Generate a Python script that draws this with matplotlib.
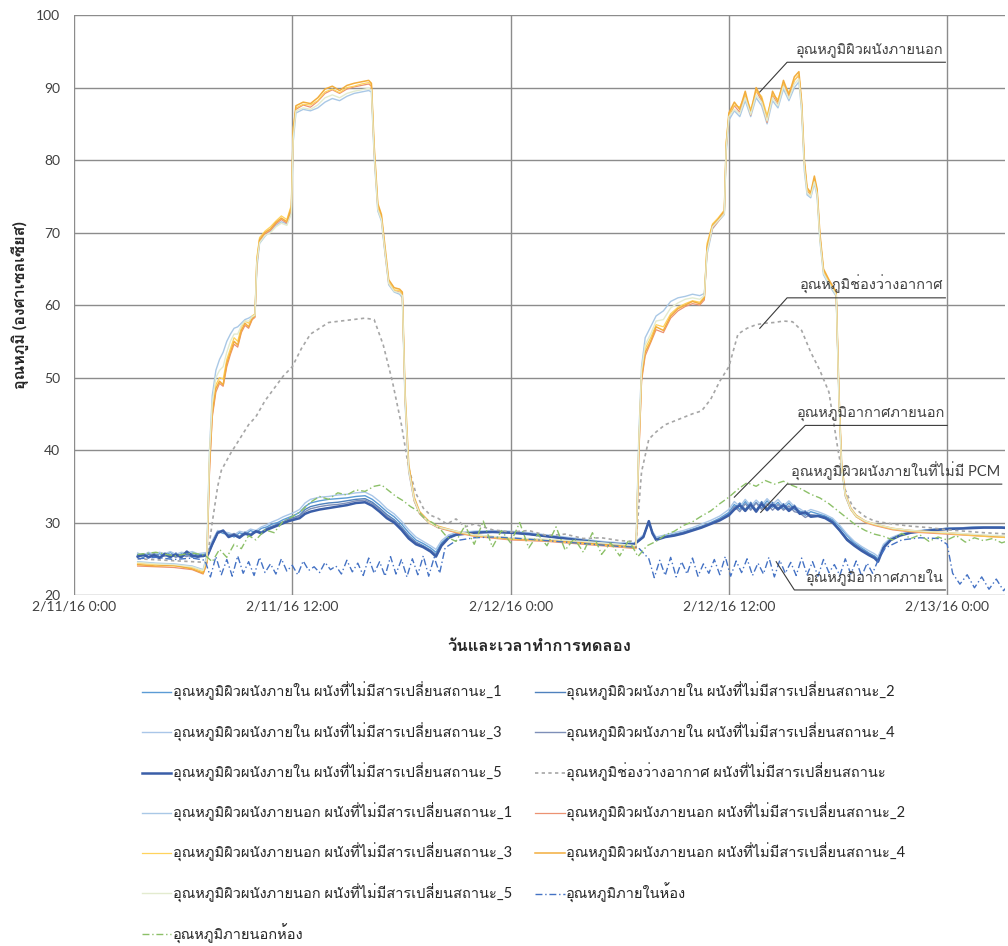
import matplotlib
matplotlib.use('Agg')
import matplotlib.pyplot as plt
import matplotlib.font_manager as fm
from matplotlib.ft2font import FT2Font

# pick an installed family that carries Thai glyphs
thai_family = None
for f in fm.fontManager.ttflist:
    try:
        if 0x0E2D in FT2Font(f.fname).get_charmap():
            thai_family = f.name
            break
    except Exception:
        pass
families = ['Lato'] + ([thai_family] if thai_family else []) + ['DejaVu Sans']
plt.rcParams['font.family'] = families

# hours since 2/11/16 0:00
tick_hours = [0, 12, 24, 36, 48]
tick_labels = ['2/11/16 0:00', '2/11/16 12:00', '2/12/16 0:00', '2/12/16 12:00', '2/13/16 0:00']
y_ticks = [20, 30, 40, 50, 60, 70, 80, 90, 100]

# outer wall surface, five sensors
t_out = [3.5, 4.5, 5.5, 6.5, 7.1, 7.3, 7.45, 7.6, 7.8, 8.0, 8.2, 8.4, 8.6, 8.8, 9.0, 9.2, 9.4, 9.6, 9.8, 9.95,
         10.05, 10.2, 10.5, 10.8, 11.1, 11.4, 11.7, 11.95, 12.05, 12.2, 12.6, 13.0, 13.4, 13.8, 14.2, 14.6, 15.0, 15.4, 15.8, 16.2,
         16.35, 16.5, 16.7, 16.9, 17.1, 17.3, 17.6, 17.9, 18.05, 18.2, 18.4, 18.7, 19.0, 19.5, 20.0, 21.0, 22.0, 24.0, 26.0, 28.0,
         30.0, 30.9, 31.05, 31.2, 31.4, 31.7, 32.0, 32.4, 32.8, 33.2, 33.6, 34.0, 34.4, 34.65, 34.8, 35.1, 35.4, 35.75, 35.85, 36.0,
         36.3, 36.6, 36.9, 37.2, 37.5, 37.8, 38.1, 38.4, 38.7, 39.0, 39.3, 39.6, 39.85, 40.0, 40.15, 40.3, 40.5, 40.7, 40.85, 41.0,
         41.2, 41.5, 41.9, 42.05, 42.2, 42.4, 42.7, 43.0, 43.5, 44.0, 45.0, 46.0, 48.0, 50.0, 51.5]
outer_1 = [24.6, 24.4, 24.3, 24.0, 23.5, 25.5, 40.0, 47.5, 51.0, 52.5, 53.5, 55.0, 56.0, 56.8, 57.0, 57.5, 58.0, 58.2, 58.5, 58.7,
           65.0, 68.5, 69.5, 70.2, 71.0, 71.5, 71.2, 72.8, 82.5, 86.5, 87.0, 86.8, 87.2, 88.0, 88.5, 88.2, 88.8, 89.2, 89.4, 89.6,
           89.4, 80.5, 73.0, 71.6, 67.0, 62.8, 61.8, 61.5, 61.0, 46.5, 37.0, 33.0, 31.2, 30.0, 29.3, 28.7, 28.2, 27.8, 27.6, 27.3,
           27.0, 26.8, 42.0, 51.5, 55.5, 57.0, 58.5, 59.2, 60.5, 61.0, 61.2, 61.5, 61.3, 61.6, 67.0, 70.5, 71.5, 72.5, 81.0, 85.5,
           86.8, 86.0, 88.2, 86.0, 88.6, 87.5, 85.0, 88.2, 87.2, 89.8, 88.2, 90.0, 90.8, 86.8, 78.5, 75.2, 74.8, 76.8, 75.0, 69.0,
           64.2, 62.8, 61.2, 47.0, 37.4, 33.6, 31.8, 30.8, 30.1, 29.7, 29.1, 28.8, 28.5, 28.2, 28.0]
outer_2 = [24.0, 23.9, 23.8, 23.5, 22.9, 24.3, 37.0, 44.5, 48.0, 49.2, 48.8, 51.5, 53.2, 54.6, 54.2, 56.2, 57.2, 56.8, 58.0, 58.3,
           65.5, 68.8, 69.8, 70.3, 71.2, 71.8, 71.3, 73.2, 83.5, 87.0, 87.6, 87.3, 88.1, 89.2, 89.7, 89.2, 89.8, 90.1, 90.3, 90.5,
           90.2, 81.0, 73.5, 72.0, 67.2, 63.0, 62.0, 61.8, 61.4, 47.0, 37.2, 33.0, 31.2, 30.0, 29.3, 28.6, 28.1, 27.6, 27.4, 27.0,
           26.6, 26.4, 39.0, 49.5, 53.0, 54.8, 56.6, 56.2, 58.2, 59.2, 59.8, 60.2, 60.0, 60.7, 67.5, 70.6, 71.5, 72.7, 81.5, 86.0,
           87.5, 86.6, 89.0, 86.2, 89.6, 88.1, 85.2, 89.0, 87.6, 90.6, 88.7, 91.0, 91.7, 87.5, 79.5, 75.8, 75.2, 77.4, 75.6, 69.6,
           64.6, 63.2, 61.5, 47.6, 37.7, 33.7, 31.8, 30.8, 30.0, 29.6, 29.0, 28.7, 28.4, 28.1, 27.9]
outer_3 = [24.4, 24.2, 24.0, 23.8, 23.2, 24.8, 39.0, 46.0, 49.0, 50.0, 49.8, 52.5, 54.0, 55.5, 55.0, 57.0, 57.8, 57.5, 58.5, 58.8,
           66.5, 69.3, 70.2, 70.8, 71.6, 72.3, 71.8, 73.8, 84.5, 87.2, 87.7, 87.6, 88.2, 89.4, 89.8, 89.3, 90.0, 90.2, 90.5, 90.7,
           90.4, 81.5, 73.8, 72.2, 67.5, 63.2, 62.1, 62.0, 61.6, 47.5, 37.5, 33.2, 31.3, 30.0, 29.4, 28.7, 28.2, 27.7, 27.5, 27.1,
           26.7, 26.5, 41.0, 50.5, 54.0, 55.5, 57.3, 57.0, 58.8, 59.7, 60.2, 60.6, 60.4, 61.1, 68.5, 71.2, 72.0, 73.1, 82.5, 86.2,
           87.6, 87.3, 89.0, 87.0, 89.5, 88.8, 86.2, 89.0, 88.4, 90.6, 89.3, 91.0, 91.8, 87.6, 79.5, 76.0, 75.3, 77.5, 75.8, 69.5,
           64.8, 63.3, 61.6, 47.5, 37.6, 33.8, 31.8, 30.8, 30.1, 29.7, 29.1, 28.8, 28.5, 28.1, 27.9]
outer_4 = [24.2, 24.0, 24.1, 23.6, 23.0, 24.5, 38.0, 45.0, 48.5, 49.5, 49.0, 52.0, 53.5, 55.0, 54.5, 56.5, 57.5, 57.0, 58.2, 58.5,
           66.0, 69.0, 70.0, 70.5, 71.4, 72.0, 71.5, 73.5, 84.0, 87.5, 88.0, 87.8, 88.6, 89.8, 90.2, 89.6, 90.3, 90.6, 90.8, 91.0,
           90.6, 82.0, 74.0, 72.5, 68.0, 63.5, 62.4, 62.2, 61.8, 48.0, 38.0, 33.5, 31.5, 30.2, 29.5, 28.8, 28.3, 27.8, 27.6, 27.2,
           26.8, 26.6, 40.0, 50.0, 53.5, 55.0, 57.0, 56.5, 58.5, 59.5, 60.0, 60.5, 60.2, 61.0, 68.0, 71.0, 71.8, 73.0, 82.0, 86.5,
           88.0, 87.0, 89.5, 86.5, 90.0, 88.5, 85.5, 89.5, 88.0, 91.0, 89.0, 91.5, 92.2, 88.0, 80.0, 76.2, 75.5, 77.8, 76.0, 70.0,
           65.0, 63.5, 61.8, 48.0, 38.0, 34.0, 32.0, 31.0, 30.2, 29.8, 29.2, 28.9, 28.6, 28.2, 28.0]
outer_5 = [24.5, 24.3, 24.2, 23.9, 23.4, 25.0, 39.5, 46.5, 50.0, 51.0, 51.5, 53.5, 55.0, 56.0, 56.0, 57.2, 57.8, 57.8, 58.4, 58.6,
           65.8, 68.6, 69.6, 70.0, 70.8, 71.3, 71.0, 72.6, 83.0, 86.8, 87.2, 87.0, 87.6, 88.6, 89.0, 88.6, 89.2, 89.5, 89.7, 89.9,
           89.7, 81.0, 73.2, 71.8, 67.3, 63.0, 61.9, 61.7, 61.3, 47.2, 37.3, 33.2, 31.3, 30.1, 29.4, 28.8, 28.3, 27.9, 27.7, 27.4,
           27.0, 26.8, 41.0, 51.0, 54.5, 56.0, 57.8, 58.0, 59.6, 60.3, 60.8, 61.0, 60.8, 61.3, 67.3, 70.8, 71.6, 72.6, 81.5, 86.0,
           87.0, 86.4, 88.6, 86.3, 89.0, 88.0, 85.4, 88.6, 87.5, 90.2, 88.5, 90.5, 91.2, 87.2, 79.0, 75.5, 75.0, 77.0, 75.3, 69.2,
           64.4, 63.0, 61.4, 47.2, 37.5, 33.8, 31.9, 30.9, 30.2, 29.8, 29.2, 28.9, 28.6, 28.3, 28.1]

# inner wall surface, five sensors
t_in = [3.5, 3.8, 4.1, 4.4, 4.7, 5.0, 5.3, 5.6, 5.9, 6.2, 6.5, 6.8, 7.1, 7.35, 7.6, 7.9, 8.2, 8.5, 8.8, 9.1,
        9.4, 9.7, 10.0, 10.3, 10.6, 10.9, 11.2, 11.5, 11.8, 12.1, 12.4, 12.7, 13.0, 13.5, 14.0, 14.5, 15.0, 15.5, 16.0, 16.4,
        16.8, 17.2, 17.6, 18.0, 18.4, 18.8, 19.2, 19.6, 19.9, 20.2, 20.6, 21.0, 22.0, 23.0, 24.0, 25.0, 26.0, 27.0, 28.0, 29.0,
        30.0, 30.8, 31.3, 31.6, 31.8, 32.0, 32.5, 33.0, 33.5, 34.0, 34.5, 35.0, 35.5, 36.0, 36.3, 36.6, 36.9, 37.2, 37.5, 37.8,
        38.1, 38.4, 38.7, 39.0, 39.3, 39.6, 39.9, 40.2, 40.5, 40.9, 41.3, 41.7, 42.1, 42.5, 42.9, 43.3, 43.7, 44.0, 44.2, 44.5,
        44.9, 45.4, 46.0, 47.0, 48.0, 49.0, 50.0, 51.0, 51.5]
inner_1 = [25.6, 25.4, 25.8, 25.3, 25.7, 25.4, 25.9, 25.3, 25.7, 25.5, 25.8, 25.5, 25.6, 25.8, 27.3, 28.8, 28.5, 28.4, 28.0, 28.6,
           28.3, 28.9, 28.6, 29.2, 29.4, 29.8, 30.0, 30.4, 30.7, 31.0, 31.4, 32.2, 32.7, 33.0, 33.2, 33.3, 33.4, 33.6, 33.7, 33.2,
           32.4, 31.5, 30.8, 29.8, 28.6, 27.6, 27.1, 26.5, 25.9, 27.2, 28.1, 28.5, 28.7, 28.8, 28.7, 28.5, 28.2, 27.9, 27.6, 27.3,
           27.1, 27.1, 28.2, 30.0, 28.7, 27.8, 28.1, 28.4, 28.7, 29.1, 29.5, 30.0, 30.6, 31.4, 32.5, 31.8, 32.9, 31.9, 32.8, 32.0,
           33.0, 32.1, 32.8, 31.9, 32.7, 31.8, 31.6, 31.0, 31.5, 31.2, 30.9, 30.4, 29.4, 28.2, 27.2, 26.5, 25.8, 25.4, 25.0, 26.8,
           27.8, 28.3, 28.7, 29.0, 29.2, 29.3, 29.4, 29.4, 29.3]
inner_2 = [25.5, 25.2, 25.6, 25.8, 25.3, 25.5, 25.1, 25.8, 25.4, 25.6, 25.2, 25.7, 25.3, 25.6, 27.1, 28.7, 28.7, 28.2, 28.4, 28.1,
           28.7, 28.4, 28.9, 28.7, 29.2, 29.5, 29.8, 30.1, 30.5, 30.7, 31.0, 31.8, 32.2, 32.5, 32.7, 32.8, 33.0, 33.2, 33.3, 32.8,
           32.0, 31.1, 30.4, 29.4, 28.2, 27.3, 26.8, 26.2, 25.6, 27.0, 28.0, 28.4, 28.6, 28.7, 28.6, 28.4, 28.1, 27.8, 27.5, 27.2,
           27.0, 27.0, 28.1, 30.1, 28.6, 27.7, 28.0, 28.3, 28.6, 29.0, 29.4, 29.9, 30.4, 31.2, 32.0, 32.7, 31.8, 32.8, 31.7, 32.9,
           31.9, 32.8, 32.0, 32.6, 31.9, 32.4, 31.4, 31.6, 31.0, 31.0, 30.8, 30.2, 29.0, 27.8, 27.0, 26.3, 25.7, 25.3, 24.8, 26.7,
           27.7, 28.3, 28.7, 29.0, 29.2, 29.3, 29.4, 29.3, 29.2]
inner_3 = [25.8, 25.5, 25.9, 25.6, 25.9, 25.7, 26.0, 25.6, 25.9, 25.8, 26.0, 25.7, 25.8, 25.9, 27.5, 28.9, 28.7, 28.6, 28.3, 28.8,
           28.6, 29.1, 28.9, 29.4, 29.7, 30.1, 30.4, 30.8, 31.1, 31.4, 31.8, 32.7, 33.2, 33.5, 33.6, 33.8, 33.9, 34.1, 34.2, 33.7,
           32.9, 31.9, 31.2, 30.2, 29.0, 28.0, 27.4, 26.8, 26.3, 27.5, 28.3, 28.6, 28.8, 28.9, 28.8, 28.6, 28.3, 28.0, 27.7, 27.4,
           27.2, 27.2, 28.3, 29.8, 28.8, 28.0, 28.3, 28.6, 28.9, 29.3, 29.8, 30.3, 30.9, 31.8, 32.9, 32.2, 33.2, 32.3, 33.1, 32.4,
           33.3, 32.5, 33.2, 32.3, 33.0, 32.2, 31.9, 31.4, 31.8, 31.5, 31.1, 30.6, 29.6, 28.4, 27.4, 26.7, 26.1, 25.7, 25.3, 27.0,
           27.9, 28.4, 28.8, 29.0, 29.2, 29.3, 29.4, 29.4, 29.3]
inner_4 = [25.2, 25.5, 25.3, 25.7, 25.2, 25.4, 25.6, 25.2, 25.5, 25.3, 25.6, 25.2, 25.5, 25.4, 26.9, 28.5, 28.8, 28.1, 28.5, 28.0,
           28.6, 28.3, 28.7, 28.6, 29.1, 29.4, 29.7, 30.0, 30.4, 30.6, 30.9, 31.5, 31.9, 32.2, 32.4, 32.5, 32.7, 33.0, 33.1, 32.6,
           31.8, 30.9, 30.2, 29.2, 28.0, 27.2, 26.7, 26.1, 25.5, 26.9, 27.9, 28.3, 28.6, 28.7, 28.6, 28.4, 28.1, 27.8, 27.5, 27.2,
           27.0, 27.0, 28.0, 30.0, 28.5, 27.7, 28.0, 28.3, 28.6, 29.0, 29.4, 29.9, 30.4, 31.1, 32.2, 31.5, 32.6, 31.7, 32.7, 31.8,
           32.6, 31.7, 32.5, 31.7, 32.3, 31.5, 31.3, 30.7, 31.1, 30.9, 30.6, 30.1, 28.8, 27.6, 26.9, 26.2, 25.6, 25.2, 24.7, 26.6,
           27.6, 28.2, 28.6, 28.9, 29.1, 29.2, 29.3, 29.3, 29.2]
inner_5 = [25.3, 25.6, 25.2, 25.5, 25.1, 25.7, 25.3, 25.6, 25.2, 26.0, 25.4, 25.3, 25.4, 25.5, 27.0, 28.6, 28.9, 28.0, 28.3, 27.9,
           28.5, 28.2, 28.8, 28.5, 29.0, 29.3, 29.6, 29.9, 30.2, 30.4, 30.6, 31.2, 31.5, 31.8, 32.0, 32.2, 32.4, 32.7, 32.8, 32.3,
           31.5, 30.6, 30.0, 29.0, 27.8, 27.0, 26.6, 26.0, 25.3, 26.8, 27.9, 28.3, 28.6, 28.7, 28.6, 28.4, 28.1, 27.8, 27.5, 27.2,
           27.0, 27.0, 28.0, 30.2, 28.5, 27.6, 28.0, 28.2, 28.5, 28.9, 29.3, 29.8, 30.3, 31.0, 31.8, 32.4, 31.6, 32.5, 31.5, 32.6,
           31.7, 32.5, 31.8, 32.4, 31.6, 32.2, 31.2, 31.4, 30.8, 30.9, 30.6, 30.0, 28.9, 27.6, 26.8, 26.1, 25.5, 25.1, 24.6, 26.5,
           27.6, 28.2, 28.6, 28.9, 29.1, 29.2, 29.3, 29.3, 29.2]

# air gap inside the wall
t_gap = [3.5, 5.0, 6.5, 7.3, 7.6, 7.9, 8.1, 8.6, 9.1, 9.6, 10.0, 10.5, 11.0, 11.5, 12.0, 12.5, 13.0, 13.5, 14.0,
         15.0, 16.0, 16.5, 17.0, 17.5, 18.0, 18.4, 18.8, 19.2, 19.6, 20.0, 20.5, 21.0, 21.5, 22.0,
         23.0, 24.0, 25.0, 26.0, 27.0, 28.0, 29.0, 30.0, 30.9, 31.2, 31.6,
         32.0, 32.5, 33.0, 33.5, 34.0, 34.5, 35.0, 35.5, 36.0, 36.5, 37.0, 37.5, 38.0, 38.5, 39.0, 39.5, 40.0, 40.5, 41.0, 41.5, 42.0,
         42.4, 42.8, 43.5, 44.0, 45.0, 46.0, 47.0, 48.0, 49.0, 50.0, 51.5]
gap = [25.0, 24.8, 24.6, 24.5, 30.0, 35.0, 37.2, 39.5, 41.5, 43.5, 44.6, 46.8, 48.5, 50.2, 51.5, 54.0, 56.0, 56.8, 57.6,
       57.9, 58.2, 58.0, 54.5, 49.5, 43.5, 37.5, 34.0, 32.0, 31.0, 30.6, 29.8, 30.5, 29.4, 29.8,
       29.0, 28.7, 28.9, 28.2, 28.4, 27.8, 27.9, 27.5, 27.4, 37.0, 41.5,
       42.5, 43.5, 44.0, 44.5, 45.0, 45.4, 47.0, 49.5, 51.5, 56.0, 56.8, 57.3, 57.5, 57.6, 57.8, 57.7, 56.5, 53.5, 51.0, 48.0, 40.0,
       34.5, 32.2, 30.8, 30.2, 29.8, 29.5, 29.3, 29.0, 28.8, 28.6, 28.4]

# room air inside
t_room = [3.5, 4.5, 5.5, 6.5, 7.2,
          7.5, 7.8, 8.1, 8.4, 8.7, 9.0, 9.3, 9.6, 9.9, 10.2, 10.5, 10.8, 11.1, 11.4, 11.7, 12.0, 12.3, 12.6, 12.9, 13.2, 13.5,
          13.8, 14.1, 14.4, 14.7, 15.0, 15.3, 15.6, 15.9, 16.2, 16.5, 16.8, 17.1, 17.4, 17.7, 18.0, 18.3, 18.6, 18.9, 19.2,
          19.5, 19.8, 20.1,
          20.4, 21.0, 22.0, 23.0, 24.0, 25.0, 26.0, 27.0, 28.0, 29.0, 30.0, 31.0,
          31.6, 31.9, 32.2, 32.5, 32.8, 33.1, 33.4, 33.7, 34.0, 34.3, 34.6, 34.9, 35.2, 35.5, 35.8, 36.1, 36.4, 36.7, 37.0,
          37.3, 37.6, 37.9, 38.2, 38.5, 38.8, 39.1, 39.4, 39.7, 40.0, 40.3, 40.6, 40.9, 41.2, 41.5, 41.8, 42.1, 42.4, 42.7,
          43.0, 43.3, 43.6, 43.9, 44.2,
          44.6, 45.5, 46.5, 47.5, 48.0, 48.3, 48.7, 49.1, 49.5, 49.9, 50.3, 50.7, 51.1, 51.5]
room_in = [25.0, 25.2, 24.9, 25.1, 24.8,
           22.5, 25.3, 22.8, 24.9, 22.6, 25.4, 23.0, 24.6, 22.7, 25.2, 23.1, 24.3, 22.9, 25.0, 23.3, 24.1, 22.8, 24.7, 23.4, 23.9, 23.1,
           24.5, 23.5, 24.0, 22.9, 24.8, 23.2, 24.4, 22.7, 25.1, 23.0, 24.6, 22.6, 25.3, 22.9, 24.9, 22.5, 25.0, 22.8, 25.4,
           22.6, 25.2, 23.0,
           26.5, 27.5, 27.9, 28.0, 27.9, 27.7, 27.5, 27.3, 27.1, 26.9, 26.7, 26.6,
           25.0, 22.4, 24.8, 22.7, 25.2, 22.5, 24.6, 22.9, 25.1, 22.6, 24.3, 23.0, 24.9, 22.8, 25.3, 22.6, 24.7, 23.1, 25.0,
           22.7, 24.4, 22.9, 25.2, 22.5, 24.8, 23.0, 24.5, 22.7, 25.1, 22.8, 24.6, 22.6, 24.9, 23.1, 24.2, 22.7, 25.0, 22.9,
           24.7, 22.6, 24.4, 23.0, 24.8,
           26.5, 27.6, 27.9, 27.8, 27.0, 23.0, 21.5, 22.8, 21.0, 22.5, 20.8, 22.2, 20.6, 21.8]

# outdoor air
t_amb = [3.5, 4.5, 5.5, 6.5, 7.2, 7.6, 8.0, 8.4, 8.8, 9.2, 9.6,
         10.0, 10.5, 11.0, 11.5, 12.0, 12.5, 13.0, 13.5, 14.0, 14.5, 15.0, 15.5, 16.0, 16.5,
         16.9, 17.3, 17.7, 18.1, 18.5, 18.9, 19.3, 19.7, 20.1,
         20.5, 21.0, 21.5, 22.0, 22.5, 23.0, 23.5, 24.0, 24.5, 25.0, 25.5, 26.0, 26.5, 27.0, 27.5, 28.0, 28.5, 29.0, 29.5,
         30.0, 30.5, 31.0, 31.5, 32.0, 32.5, 33.0, 33.5, 34.0, 34.5, 35.0, 35.5, 36.0, 36.5, 37.0, 37.5, 38.0, 38.5, 39.0,
         39.5, 40.0, 40.5, 41.0, 41.5, 42.0, 42.5, 43.0, 43.5, 44.0, 44.5, 45.0, 45.5, 46.0, 46.5, 47.0, 47.5, 48.0, 48.5,
         49.0, 49.5, 50.0, 50.5, 51.0, 51.5]
amb = [25.6, 25.9, 25.4, 25.8, 25.5, 24.6, 26.3, 25.2, 27.0, 26.4, 28.2,
       27.6, 29.0, 28.6, 30.2, 30.8, 31.6, 32.8, 33.6, 33.2, 34.1, 33.8, 34.5, 34.3, 35.0,
       35.2, 34.4, 33.6, 33.0, 32.2, 31.6, 30.5, 30.0, 29.2,
       28.0, 27.4, 29.6, 27.0, 30.2, 26.6, 28.9, 27.2, 30.0, 26.5, 28.4, 26.8, 29.4, 26.2, 27.8, 25.9, 28.6, 25.6, 27.2,
       25.4, 27.6, 25.3, 26.8, 27.4, 28.3, 28.8, 29.6, 30.1, 30.9, 31.6, 32.6, 33.5, 34.6, 35.5, 35.0, 35.8, 35.3, 35.7,
       35.1, 34.6, 33.9, 33.4, 32.6, 31.6, 30.6, 29.6, 28.9, 28.4, 28.1, 27.6, 28.5, 27.8, 28.3, 27.4, 28.0, 27.6, 28.2,
       27.3, 27.9, 27.5, 27.8, 27.2, 27.6]

wall_in = 'อุณหภูมิผิวผนังภายใน ผนังที่ไม่มีสารเปลี่ยนสถานะ_'
wall_out = 'อุณหภูมิผิวผนังภายนอก ผนังที่ไม่มีสารเปลี่ยนสถานะ_'
series = [
    (t_in, inner_1, wall_in + '1', '#5b9bd5', 1.0, '-'),
    (t_in, inner_2, wall_in + '2', '#4f81bd', 1.0, '-'),
    (t_in, inner_3, wall_in + '3', '#a9c6e8', 1.0, '-'),
    (t_in, inner_4, wall_in + '4', '#7e8fb8', 1.0, '-'),
    (t_in, inner_5, wall_in + '5', '#3a5ea8', 1.8, '-'),
    (t_gap, gap, 'อุณหภูมิช่องว่างอากาศ ผนังที่ไม่มีสารเปลี่ยนสถานะ', '#a6a6a6', 1.2, (0, (2, 2))),
    (t_out, outer_1, wall_out + '1', '#a9c8e6', 1.0, '-'),
    (t_out, outer_2, wall_out + '2', '#ec9272', 0.9, '-'),
    (t_out, outer_3, wall_out + '3', '#ffd35c', 0.9, '-'),
    (t_out, outer_4, wall_out + '4', '#f2ad3d', 1.1, '-'),
    (t_out, outer_5, wall_out + '5', '#e3ebcf', 1.0, '-'),
    (t_room, room_in, 'อุณหภูมิภายในห้อง', '#4472c4', 1.0, (0, (5, 2, 1, 2))),
    (t_amb, amb, 'อุณหภูมิภายนอกห้อง', '#8cc068', 1.0, (0, (5, 2, 1, 2))),
]

fig = plt.figure(figsize=(10.08, 9.46), dpi=100)
ax = fig.add_axes([0.0734, 0.371, 0.924, 0.613])

handles = []
for t, v, label, color, lw, ls in series:
    line, = ax.plot(t, v, color=color, lw=lw, linestyle=ls, label=label)
    handles.append(line)

ax.set_xlim(0, 51.2)
ax.set_ylim(20, 100)
ax.set_xticks(tick_hours)
ax.set_xticklabels(tick_labels)
ax.set_yticks(y_ticks)
ax.tick_params(length=0, labelsize=10, colors='#404040')
ax.tick_params(axis='x', pad=4)
ax.tick_params(axis='y', pad=10)
ax.grid(True, color='#8c8c8c', lw=1.0)
ax.set_axisbelow(True)
for s in ax.spines.values():
    s.set_visible(False)

ax.set_ylabel('อุณหภูมิ (องศาเซลเซียส)', fontsize=11.5, fontweight='bold', color='#262626', labelpad=5)
ax.set_xlabel('วันและเวลาทำการทดลอง', fontsize=12, fontweight='bold', color='#262626', labelpad=18)

# callout labels: (text, point on curve, elbow, end of underline)
callouts = [
    ('อุณหภูมิผิวผนังภายนอก', (37.7, 89.4), (39.2, 93.5), 47.9),
    ('อุณหภูมิช่องว่างอากาศ', (37.7, 56.8), (39.2, 61.0), 47.9),
    ('อุณหภูมิอากาศภายนอก', (36.3, 33.5), (40.2, 43.4), 48.0),
    ('อุณหภูมิผิวผนังภายในที่ไม่มี PCM', (37.75, 31.4), (39.2, 35.3), 51.0),
    ('อุณหภูมิอากาศภายใน', (38.6, 24.6), (39.6, 20.7), 47.9),
]
for text, pt, elbow, x_end in callouts:
    ax.plot([pt[0], elbow[0], x_end], [pt[1], elbow[1], elbow[1]], color='#3a3a3a', lw=0.8, clip_on=False)
    ax.text(x_end - 0.1, elbow[1] + 0.5, text, ha='right', va='bottom', fontsize=10.5, color='#404040')

# legend runs row by row in two columns
col1 = [0, 2, 4, 6, 8, 10, 12]
col2 = [1, 3, 5, 7, 9, 11]
order = col1 + col2
fig.legend([handles[i] for i in order], [handles[i].get_label() for i in order],
           loc='upper left', bbox_to_anchor=(0.128, 0.2925), ncol=2, frameon=False,
           fontsize=10.5, handlelength=2.0, handletextpad=0.1, labelspacing=1.45,
           columnspacing=1.6, labelcolor='#262626')

fig.savefig('out.png', dpi=100)
